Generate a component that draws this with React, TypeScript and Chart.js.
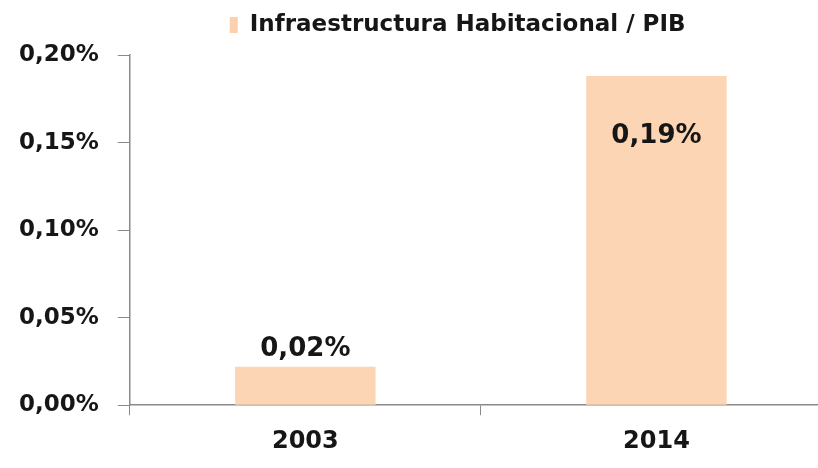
import React, { useEffect, useRef } from 'react';
import { Chart, registerables } from 'chart.js';

Chart.register(...registerables);

const categories: string[] = ['2003', '2014'];
const seriesName = 'Infraestructura Habitacional / PIB';
const values: number[] = [0.022, 0.188];
const valueLabels: string[] = ['0,02%', '0,19%'];
const yMin = 0;
const yMax = 0.2;
const yStep = 0.05;

const FONT = '"DejaVu Sans", sans-serif';
const BAR_COLOR = '#FCD5B4';
const TEXT_COLOR = '#161616';
const AXIS_COLOR = '#8a8a8a';

const legendPlugin = {
  id: 'customLegend',
  afterDraw(chart: any) {
    const ctx = chart.ctx;
    const { left } = chart.chartArea;
    const x0 = left + 100;
    ctx.save();
    ctx.fillStyle = 'rgba(250, 200, 160, 0.85)';
    ctx.fillRect(x0, 17, 8, 16);
    ctx.font = `bold 23px ${FONT}`;
    ctx.fillStyle = TEXT_COLOR;
    ctx.textAlign = 'left';
    ctx.textBaseline = 'middle';
    ctx.fillText(seriesName, x0 + 20, 25);
    ctx.restore();
  },
};

const dataLabelPlugin = {
  id: 'dataLabels',
  afterDatasetsDraw(chart: any) {
    const ctx = chart.ctx;
    const meta = chart.getDatasetMeta(0);
    ctx.save();
    ctx.font = `bold 26px ${FONT}`;
    ctx.fillStyle = TEXT_COLOR;
    ctx.textAlign = 'center';
    ctx.textBaseline = 'middle';
    meta.data.forEach((bar: any, i: number) => {
      const h = bar.base - bar.y;
      const y = h > 100 ? bar.y + 60 : bar.y - 17;
      ctx.fillText(valueLabels[i], bar.x, y);
    });
    ctx.restore();
  },
};

export default function App() {
  const canvasRef = useRef<HTMLCanvasElement | null>(null);

  useEffect(() => {
    if (!canvasRef.current) return;
    const chart = new Chart(canvasRef.current, {
      type: 'bar',
      data: {
        labels: categories,
        datasets: [
          {
            label: seriesName,
            data: values,
            backgroundColor: BAR_COLOR,
            borderWidth: 0,
            categoryPercentage: 0.8,
            barPercentage: 0.5,
          },
        ],
      },
      options: {
        responsive: false,
        animation: false,
        devicePixelRatio: 1,
        layout: { padding: { top: 55, left: 0, right: 0, bottom: 0 } },
        plugins: {
          legend: { display: false },
          tooltip: { enabled: false },
        },
        scales: {
          x: {
            grid: {
              display: true,
              drawOnChartArea: false,
              drawTicks: true,
              tickLength: 10,
              color: AXIS_COLOR,
              offset: true,
            },
            border: { display: true, color: AXIS_COLOR, width: 1.5 },
            ticks: {
              font: { family: FONT, size: 24, weight: 'bold' },
              color: TEXT_COLOR,
              padding: 12,
            },
          },
          y: {
            min: yMin,
            max: yMax,
            grid: {
              drawOnChartArea: false,
              drawTicks: true,
              tickLength: 12,
              color: AXIS_COLOR,
            },
            border: { display: true, color: AXIS_COLOR, width: 1.5 },
            ticks: {
              stepSize: yStep,
              font: { family: FONT, size: 23, weight: 'bold' },
              color: TEXT_COLOR,
              padding: 19,
              callback: (v: any) => Number(v).toFixed(2).replace('.', ',') + '%',
            },
          },
        },
      },
      plugins: [legendPlugin, dataLabelPlugin],
    });
    return () => chart.destroy();
  }, []);

  return (
    <div
      style={{
        position: 'absolute',
        left: 0,
        top: 0,
        width: 818,
        height: 468,
        overflow: 'hidden',
        background: '#ffffff',
      }}
    >
      <canvas ref={canvasRef} width={832} height={468} style={{ display: 'block' }} />
    </div>
  );
}
